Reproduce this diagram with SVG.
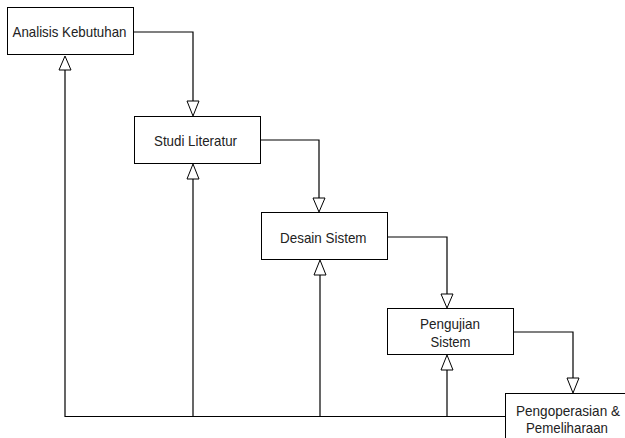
<svg xmlns="http://www.w3.org/2000/svg" width="625" height="438" viewBox="0 0 625 438">
<defs>
<style>
.box{fill:#fff;stroke:#000;stroke-width:1}
.lbl{font-family:"Liberation Sans",Arial,sans-serif;font-size:14.6px;fill:#222;text-anchor:middle}
.ln{fill:none;stroke:#000;stroke-width:1.2}
.ah{fill:#fff;stroke:#000;stroke-width:1}
</style>
</defs>
<rect width="625" height="438" fill="#fff"/>
<g id="connectors">
<polyline class="ln" points="133,32 193,32 193,101"/>
<polyline class="ln" points="260,140 319,140 319,198"/>
<polyline class="ln" points="387,237 447,237 447,294"/>
<polyline class="ln" points="514,332 573,332 573,378"/>
<polyline class="ln" points="505,416.5 65,416.5 65,70"/>
<line class="ln" x1="193" y1="416.5" x2="193" y2="179"/>
<line class="ln" x1="320" y1="416.5" x2="320" y2="275"/>
<line class="ln" x1="447" y1="416.5" x2="447" y2="370"/>
<polygon class="ah" points="187,101 199,101 193,116"/>
<polygon class="ah" points="313,198 325,198 319,212"/>
<polygon class="ah" points="441,294 453,294 447,308"/>
<polygon class="ah" points="567,378 579,378 573,393"/>
<polygon class="ah" points="59,70 71,70 65,56"/>
<polygon class="ah" points="187,179 199,179 193,164"/>
<polygon class="ah" points="314,275 326,275 320,260"/>
<polygon class="ah" points="441,370 453,370 447,355"/>
</g>
<g id="analisis">
<rect class="box" x="7.5" y="7.5" width="126" height="47"/>
<text class="lbl" x="69.5" y="37.3" textLength="114" lengthAdjust="spacingAndGlyphs">Analisis Kebutuhan</text>
</g>
<g id="studi">
<rect class="box" x="134.5" y="116.5" width="126" height="47"/>
<text class="lbl" x="195.5" y="146" textLength="83" lengthAdjust="spacingAndGlyphs">Studi Literatur</text>
</g>
<g id="desain">
<rect class="box" x="261.5" y="212.5" width="126" height="47"/>
<text class="lbl" x="323.3" y="243" textLength="86.5" lengthAdjust="spacingAndGlyphs">Desain Sistem</text>
</g>
<g id="pengujian">
<rect class="box" x="387.5" y="308.5" width="126" height="46"/>
<text class="lbl" x="450" y="328.5" textLength="60" lengthAdjust="spacingAndGlyphs">Pengujian</text>
<text class="lbl" x="450.5" y="347" textLength="40" lengthAdjust="spacingAndGlyphs">Sistem</text>
</g>
<g id="pengoperasian">
<rect class="box" x="505.5" y="393.5" width="126" height="60"/>
<text class="lbl" x="568" y="416" textLength="104" lengthAdjust="spacingAndGlyphs">Pengoperasian &amp;</text>
<text class="lbl" x="567" y="433" textLength="82" lengthAdjust="spacingAndGlyphs">Pemeliharaan</text>
</g>
</svg>
